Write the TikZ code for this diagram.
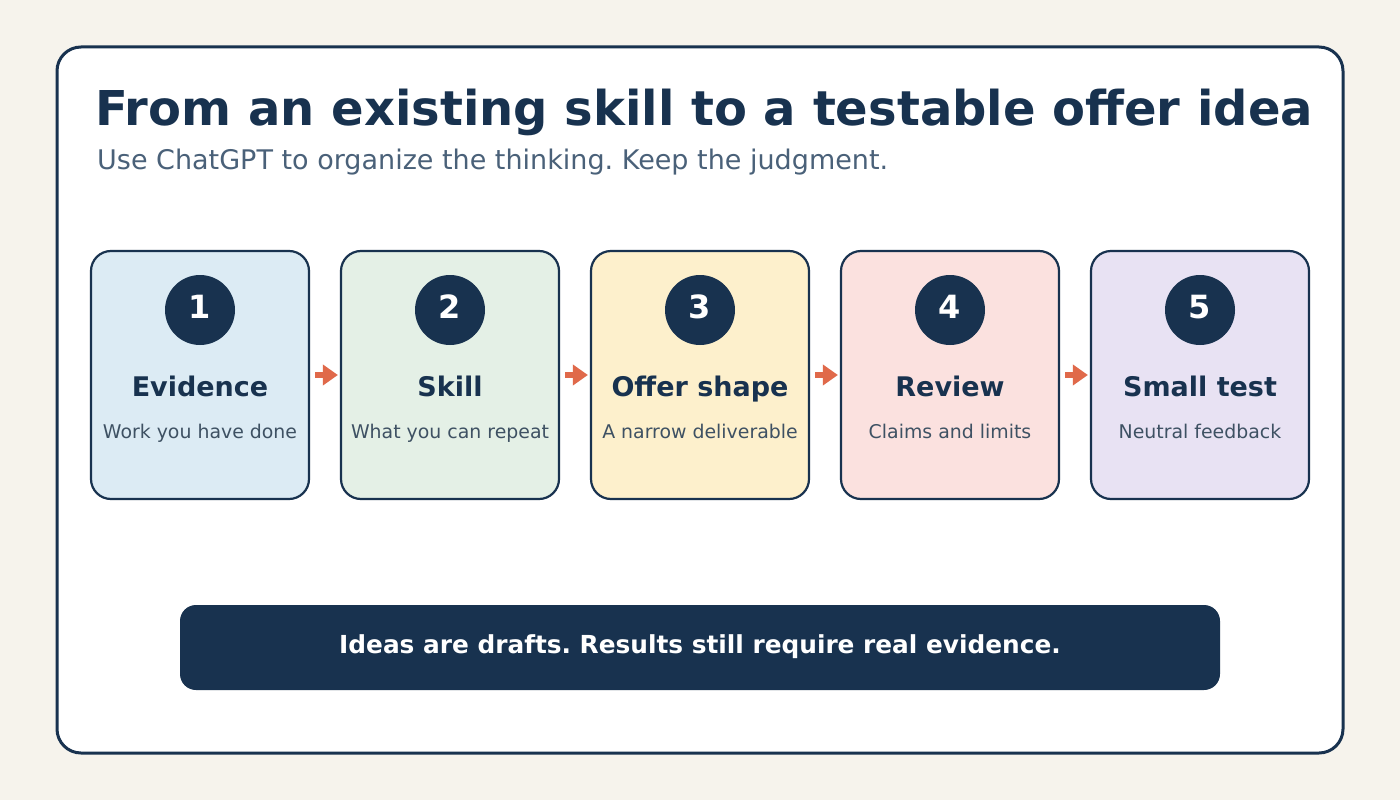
\documentclass[tikz,border=0pt]{standalone}
\usepackage{fontspec}
\setmainfont{DejaVu Sans}
\usetikzlibrary{arrows.meta}
\definecolor{bgc}{HTML}{F6F3EC}
\definecolor{navy}{HTML}{18324F}
\definecolor{subc}{HTML}{4A6179}
\definecolor{descc}{HTML}{3E5163}
\definecolor{arrc}{HTML}{E0694A}
\definecolor{fa}{HTML}{DCEBF4}
\definecolor{fb}{HTML}{E4F0E6}
\definecolor{fc}{HTML}{FDF0CC}
\definecolor{fd}{HTML}{FBE1DF}
\definecolor{fe}{HTML}{E8E2F3}
\tikzset{
  stepbox/.style={draw=navy, line width=2.2pt, rounded corners=20pt, minimum width=218pt, minimum height=248pt, inner sep=0pt},
  numcirc/.style={circle, fill=navy, minimum size=70pt, inner sep=0pt},
  numtxt/.style={anchor=base, inner sep=0pt, text=white, font=\fontsize{32}{36}\selectfont\bfseries},
  headtxt/.style={anchor=base, text=navy, font=\fontsize{27}{31}\selectfont\bfseries, inner sep=0pt},
  desctxt/.style={anchor=base, text=descc, font=\fontsize{18.9}{22}\selectfont, inner sep=0pt},
  flowarrow/.style={draw=arrc, line width=6pt, -{Triangle[length=15pt,width=20pt]}, shorten <=5pt, shorten >=2pt}
}
\begin{document}
\frenchspacing
\begin{tikzpicture}[x=1pt,y=-1pt]
\useasboundingbox (0,0) rectangle (1400,800);
\fill[bgc] (0,0) rectangle (1400,800);
\draw[navy, line width=3pt, fill=white, rounded corners=24pt] (57,47) rectangle (1343,753);
\node[anchor=base west, inner sep=0pt, text=navy, font=\fontsize{48}{54}\selectfont\bfseries] (title) at (95,125) {From an existing skill to a testable offer idea};
\node[anchor=base west, inner sep=0pt, text=subc, font=\fontsize{27}{31}\selectfont] (subtitle) at (97,169) {Use ChatGPT to organize the thinking. Keep the judgment.};
\foreach \i/\cx/\fc/\hd/\ds in {1/200/fa/Evidence/Work you have done, 2/450/fb/Skill/What you can repeat, 3/700/fc/Offer shape/A narrow deliverable, 4/950/fd/Review/Claims and limits, 5/1200/fe/Small test/Neutral feedback}{
  \node[stepbox, fill=\fc] (box\i) at (\cx,375) {};
  \node[numcirc] (num\i) at (\cx,310) {};
  \node[numtxt] (numtxt\i) at (\cx,318.5) {\i};
  \node[headtxt] (head\i) at (\cx,396.5) {\hd};
  \node[desctxt] (desc\i) at (\cx,438) {\ds};
}
\foreach \a/\b in {1/2,2/3,3/4,4/5}{
  \draw[flowarrow] (box\a.east) -- (box\b.west);
}
\node[fill=navy, rounded corners=16pt, minimum width=1040pt, minimum height=85pt, inner sep=0pt] (bar) at (700,647.5) {};
\node[anchor=base, inner sep=0pt, text=white, font=\fontsize{24.8}{28}\selectfont\bfseries] (bartxt) at (700,653.5) {Ideas are drafts. Results still require real evidence.};
\end{tikzpicture}
\end{document}
